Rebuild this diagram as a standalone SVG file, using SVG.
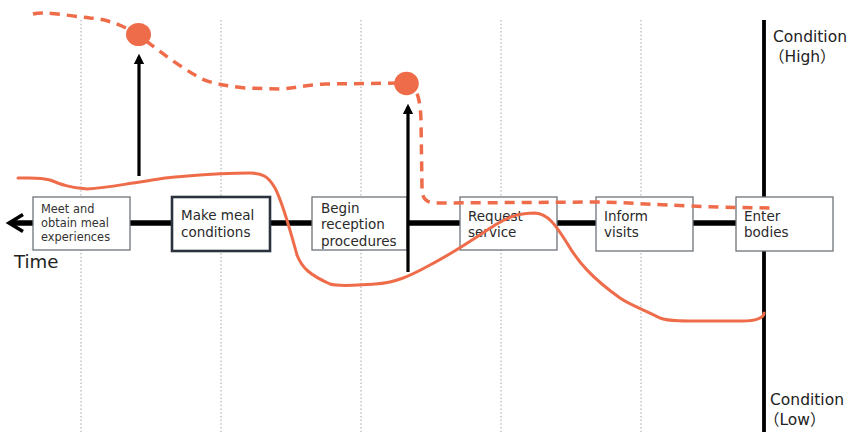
<svg xmlns="http://www.w3.org/2000/svg" width="851" height="432" viewBox="0 0 851 432">
<style>
.grid{stroke:#b4b4b4;stroke-width:1.2;stroke-dasharray:1.5 2.2;fill:none}
.box{fill:#fff;stroke:#6e747c;stroke-width:1.3}
.boxb{fill:#fff;stroke:#2b333e;stroke-width:2.6}
.t12{font-family:"DejaVu Sans","Noto Sans",sans-serif;font-size:11.4px;fill:#333}
.t14{font-family:"DejaVu Sans","Noto Sans",sans-serif;font-size:13.5px;fill:#2a2a2a}
.lbl{font-family:"DejaVu Sans","Noto Sans CJK JP",sans-serif;font-size:15.5px;fill:#222}
.orange{fill:none;stroke:#ef6c4a;stroke-width:3;stroke-linecap:round;stroke-linejoin:round}
.dash{fill:none;stroke:#ef6c4a;stroke-width:3.5;stroke-dasharray:10 7}
</style>
<defs>
<marker id="ah" markerWidth="4" markerHeight="4" refX="2.2" refY="2" orient="auto" markerUnits="strokeWidth" viewBox="0 0 4 4">
<path d="M0,0.4 L3.2,2 L0,3.6 z" fill="#000"/>
</marker>
</defs>
<rect width="851" height="432" fill="#fff"/>
<g id="grid">
<line class="grid" x1="81" y1="20" x2="81" y2="432"/>
<line class="grid" x1="221" y1="20" x2="221" y2="432"/>
<line class="grid" x1="361" y1="20" x2="361" y2="432"/>
<line class="grid" x1="501" y1="20" x2="501" y2="432"/>
<line class="grid" x1="641" y1="20" x2="641" y2="432"/>
</g>
<g id="connectors">
<line x1="12" y1="223" x2="764" y2="223" stroke="#000" stroke-width="5.5"/>
<polyline points="23,214.5 9,223 23,231.5" fill="none" stroke="#000" stroke-width="3.5"/>
<line x1="764" y1="20" x2="764" y2="432" stroke="#000" stroke-width="3.8"/>
</g>
<g id="axis-labels">
<text class="lbl" x="773" y="42">Condition</text>
<text class="lbl" x="769" y="62">（High）</text>
<text class="lbl" x="770" y="405">Condition</text>
<text class="lbl" x="764" y="425">（Low）</text>
<text x="14" y="268" font-family="DejaVu Sans, Noto Sans, sans-serif" font-size="18.2" fill="#222">Time</text>
</g>
<g id="node1">
<rect class="box" x="33" y="197" width="97" height="53"/>
<text class="t12" x="41" y="213">Meet and</text>
<text class="t12" x="41" y="227">obtain meal</text>
<text class="t12" x="41" y="241">experiences</text>
</g>
<g id="node2">
<rect class="boxb" x="172" y="197" width="98" height="54"/>
<text class="t14" x="181" y="220">Make meal</text>
<text class="t14" x="181" y="237">conditions</text>
</g>
<g id="node3">
<rect class="box" x="312" y="197" width="95" height="53"/>
<text class="t14" x="321" y="213">Begin</text>
<text class="t14" x="321" y="229">reception</text>
<text class="t14" x="321" y="246">procedures</text>
</g>
<g id="node4">
<rect class="box" x="460" y="197" width="97" height="53"/>
<text class="t14" x="468" y="221">Request</text>
<text class="t14" x="468" y="237">service</text>
</g>
<g id="node5">
<rect class="box" x="596" y="197" width="97" height="54"/>
<text class="t14" x="604" y="221">Inform</text>
<text class="t14" x="604" y="237">visits</text>
</g>
<g id="node6">
<rect class="box" x="736" y="197" width="97" height="54"/>
<text class="t14" x="744" y="221">Enter</text>
<text class="t14" x="744" y="237">bodies</text>
</g>
<g id="arrows">
<line x1="139" y1="176" x2="139" y2="57" stroke="#000" stroke-width="3.2" marker-end="url(#ah)"/>
<line x1="408" y1="272" x2="408" y2="107" stroke="#000" stroke-width="3.2" marker-end="url(#ah)"/>
</g>
<g id="curves">
<path class="dash" d="M33,14 C45,11 70,16 90,18 C105,19 118,23 139,35 C150,44 175,64 200,78 C212,84 228,86 245,88 L280,89 C295,88 305,85 325,84 L406,83 C416,86 420,95 421,120 L422,188 C422,199 426,203 437,203 L600,202 C640,203 680,207 773,208"/>
<ellipse cx="138.5" cy="34.5" rx="12.5" ry="11.5" fill="#ef6c4a"/>
<ellipse cx="406.5" cy="83.5" rx="12.3" ry="11.7" fill="#ef6c4a"/>
<path class="orange" d="M18,178 C30,178 40,177 50,180 C60,184 70,188 87,189 C105,188 120,185 133,183 C150,181 160,178 175,177 C200,175 220,173 250,173 C262,173 268,176 275,188 C283,203 290,230 297,255 C302,268 310,275 330,284 C340,287 355,285 375,284 C395,283 410,276 430,265 C455,252 475,238 495,225 C510,216 520,213 535,213 C548,214 555,224 567,243 C578,262 592,278 620,298 C630,305 645,310 660,318 C670,322 690,321 743,321 C755,321 764,318 764,313"/>
</g>
</svg>
